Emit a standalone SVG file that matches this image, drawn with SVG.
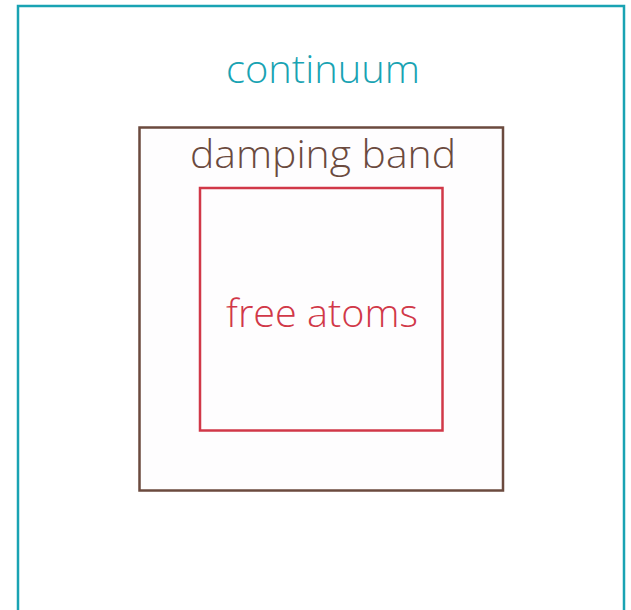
<svg xmlns="http://www.w3.org/2000/svg" width="631" height="610" viewBox="0 0 631 610">
<style>
text{font-family:"Open Sans","Noto Sans","DejaVu Sans",sans-serif;font-size:38px;font-weight:300;text-anchor:middle}
.box{stroke-width:2.5}
</style>
<rect width="631" height="610" fill="#ffffff"/>
<g id="continuum">
<rect class="box" x="18" y="6" width="606" height="620" fill="#ffffff" stroke="#19a3b3"/>
<text x="323" y="83" fill="#19a3b3" textLength="194" lengthAdjust="spacingAndGlyphs">continuum</text>
</g>
<g id="damping-band">
<rect class="box" x="139.5" y="127.5" width="363.5" height="363" fill="#fefdfe" stroke="#6b4a3e"/>
<text x="323" y="168" fill="#6b4a3e" textLength="266" lengthAdjust="spacingAndGlyphs">damping band</text>
</g>
<g id="free-atoms">
<rect class="box" x="200" y="188" width="242.5" height="242.5" fill="#fefdfe" stroke="#d13848"/>
<text x="322" y="327" fill="#d13848" textLength="192" lengthAdjust="spacingAndGlyphs">free atoms</text>
</g>
<g id="connectors"/>
</svg>
